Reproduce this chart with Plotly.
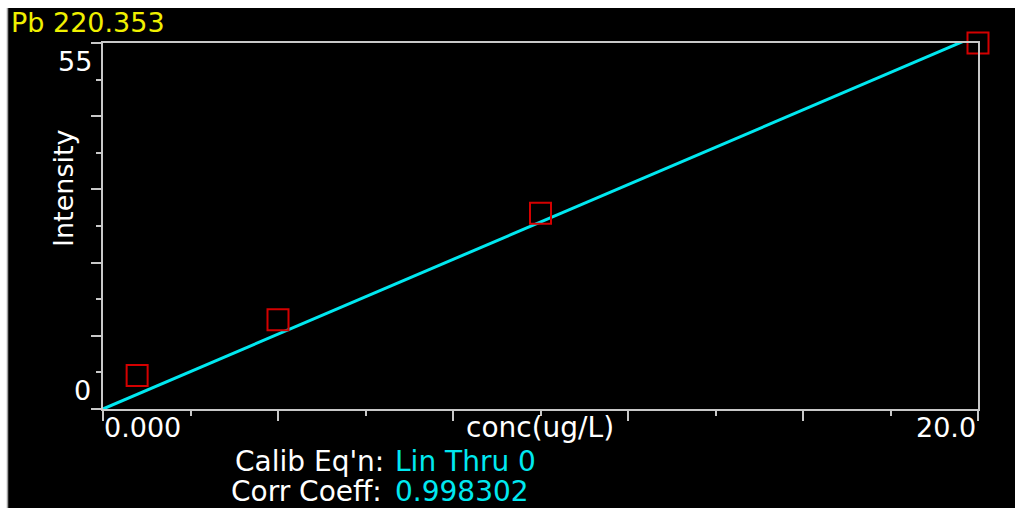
import numpy as np
import plotly.graph_objects as go

# Calibration standards for Pb 220.353
conc = [0.78, 4.0, 10.0, 20.0]          # ug/L
intensity = [5.05, 13.4, 29.4, 55.0]

# Axis ticks
x_major = [0, 4, 8, 12, 16, 20]
x_minor = [2, 6, 10, 14, 18]
y_major = [0, 11, 22, 33, 44, 55]
y_minor = [5.5, 16.5, 27.5, 38.5, 49.5]

# Text content
element_line = "Pb 220.353"
x_title = "conc(ug/L)"
y_title = "Intensity"
x_tick_labels = ["0.000", "20.0"]
y_tick_labels = ["0", "55"]
calib_eqn = "Lin Thru 0"
corr_coeff = "0.998302"

# Linear calibration forced through the origin
c = np.array(conc)
i = np.array(intensity)
slope = float((c * i).sum() / (c * c).sum())
fit_x = [0.0, x_major[-1]]
fit_y = [0.0, slope * x_major[-1]]

W, H = 1015, 508
ML, MR, MT, MB = 103, 37, 43, 99
PW, PH = W - ML - MR, H - MT - MB


def px(x):
    return (x - ML) / PW


def py(y):
    return (H - MB - y) / PH


FONT = "DejaVu Sans"
WHITE = "#ffffff"
CYAN = "#00e8f0"
RED = "#d40000"
YELLOW = "#f0f000"
AXIS = "#c8c8c8"

fig = go.Figure()

fig.add_trace(go.Scatter(
    x=fit_x, y=fit_y, mode="lines",
    line=dict(color=CYAN, width=3),
    hoverinfo="skip", showlegend=False,
))
fig.add_trace(go.Scatter(
    x=conc, y=intensity, mode="markers",
    marker=dict(symbol="square-open", size=21, color=RED,
                line=dict(color=RED, width=2)),
    cliponaxis=False, showlegend=False,
))

axis_common = dict(
    showgrid=False, zeroline=False, showticklabels=False,
    showline=True, linecolor=AXIS, linewidth=2, mirror=True,
    ticks="outside", tickcolor=AXIS, tickwidth=2, ticklen=10,
    tickmode="array",
)
fig.update_xaxes(
    range=[x_major[0], x_major[-1]], tickvals=x_major,
    minor=dict(tickmode="array", tickvals=x_minor, ticks="outside",
               ticklen=5, tickwidth=2, tickcolor=AXIS),
    **axis_common,
)
fig.update_yaxes(
    range=[y_major[0], y_major[-1]], tickvals=y_major,
    minor=dict(tickmode="array", tickvals=y_minor, ticks="outside",
               ticklen=5, tickwidth=2, tickcolor=AXIS),
    **axis_common,
)


def label(text, x, y, color=WHITE, xanchor="left", angle=0, size=27):
    return dict(text=text, x=px(x), y=py(y), xref="paper", yref="paper",
                xanchor=xanchor, yanchor="middle", showarrow=False,
                textangle=angle, borderpad=0,
                font=dict(family=FONT, size=size, color=color))


annotations = [
    label(element_line, 10, 22, YELLOW),
    label(y_tick_labels[1], 93, 61, xanchor="right"),
    label(y_tick_labels[0], 92, 390, xanchor="right"),
    label(y_title, 63, 188, xanchor="center", angle=-90),
    label(x_tick_labels[0], 103, 427),
    label(x_title, 540, 427, xanchor="center", size=28),
    label(x_tick_labels[1], 977, 427, xanchor="right"),
    label("Calib Eq'n:", 385, 461, xanchor="right", size=28),
    label(calib_eqn, 394, 461, CYAN, size=28),
    label("Corr Coeff:", 383, 492, xanchor="right", size=28),
    label(corr_coeff, 394, 492, CYAN, size=28),
]

shapes = [
    # white frame strips along the top and left edges
    dict(type="rect", xref="paper", yref="paper", layer="below",
         x0=px(0), x1=px(W), y0=py(8), y1=py(0),
         fillcolor="white", line=dict(width=0)),
    dict(type="rect", xref="paper", yref="paper", layer="below",
         x0=px(0), x1=px(7), y0=py(H), y1=py(0),
         fillcolor="white", line=dict(width=0)),
    dict(type="line", xref="paper", yref="paper", layer="below",
         x0=px(7.5), x1=px(7.5), y0=py(H), y1=py(8),
         line=dict(color="#a0a0a0", width=1.5)),
]

fig.update_layout(
    width=W, height=H,
    margin=dict(l=ML, r=MR, t=MT, b=MB, pad=0),
    paper_bgcolor="black", plot_bgcolor="black",
    annotations=annotations, shapes=shapes,
    showlegend=False,
)

fig.write_html("out.html", config={"displayModeBar": False})
